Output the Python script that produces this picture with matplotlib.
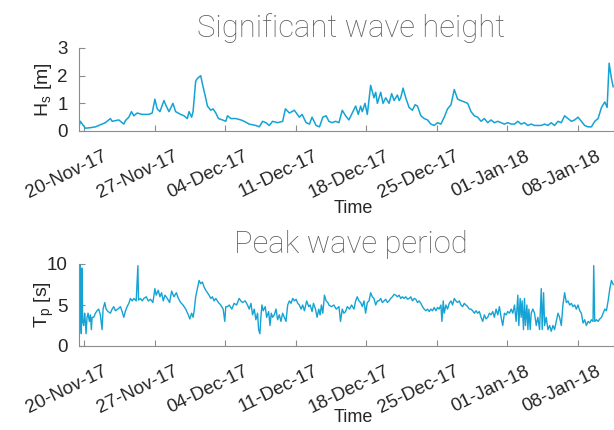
import numpy as np
import pandas as pd
import matplotlib
matplotlib.use("Agg")
import matplotlib.pyplot as plt
import matplotlib.dates as mdates
from matplotlib.transforms import ScaledTranslation

plt.rcParams['font.family'] = ['Liberation Sans', 'DejaVu Sans']
plt.rcParams['mathtext.default'] = 'regular'

# ---------------- data (days since 20-Nov-2017 00:00) ----------------
hs_day = [-0.54, -0.41, 0.09, 0.60, 1.09, 1.42, 2.08, 2.58, 2.75, 3.41,
          3.91, 4.08, 4.41, 4.67, 4.91, 5.24, 5.74, 6.40, 6.73, 7.00,
          7.23, 7.50, 7.90, 8.13, 8.40, 8.79, 9.06, 9.56, 9.89, 10.22,
          10.39, 10.65, 10.79, 11.05, 11.22, 11.55, 11.72, 11.98, 12.22, 12.55,
          12.78, 13.05, 13.31, 13.71, 14.04, 14.21, 14.54, 15.04, 15.54, 15.87,
          16.37, 17.03, 17.37, 17.70, 18.03, 18.36, 18.69, 19.19, 19.69, 19.96,
          20.36, 20.85, 21.35, 21.62, 22.02, 22.35, 22.61, 23.01, 23.35, 23.68,
          24.01, 24.28, 24.61, 24.94, 25.28, 25.61, 25.94, 26.27, 26.60, 26.94,
          27.20, 27.44, 27.60, 27.87, 28.10, 28.43, 28.76, 28.93, 29.10, 29.43,
          29.66, 29.93, 30.26, 30.52, 30.76, 31.09, 31.26, 31.42, 31.65, 31.92,
          32.25, 32.58, 32.85, 33.08, 33.42, 33.75, 34.08, 34.41, 34.74, 35.08,
          35.41, 35.74, 36.07, 36.41, 36.74, 37.07, 37.40, 37.73, 38.07, 38.40,
          38.73, 39.06, 39.40, 39.73, 40.06, 40.39, 40.72, 41.06, 41.39, 41.72,
          42.05, 42.39, 42.72, 43.05, 43.38, 43.71, 44.05, 44.38, 44.71, 45.04,
          45.38, 45.71, 46.04, 46.37, 46.70, 47.04, 47.37, 47.70, 48.03, 48.37,
          48.70, 49.03, 49.36, 49.69, 50.03, 50.36, 50.69, 51.02, 51.36, 51.69,
          51.92, 52.12, 52.35, 52.52]
hs_m = [0.15, 0.35, 0.10, 0.12, 0.15, 0.20, 0.30, 0.45, 0.35, 0.40,
        0.25, 0.38, 0.50, 0.70, 0.55, 0.65, 0.60, 0.60, 0.65, 1.15,
        0.80, 0.70, 1.10, 0.90, 0.70, 1.00, 0.70, 0.60, 0.55, 0.45,
        0.70, 0.50, 0.70, 1.80, 1.90, 2.00, 1.70, 1.30, 0.90, 0.75,
        0.80, 0.65, 0.45, 0.40, 0.35, 0.55, 0.45, 0.45, 0.40, 0.35,
        0.25, 0.20, 0.15, 0.35, 0.30, 0.20, 0.35, 0.30, 0.35, 0.80,
        0.65, 0.75, 0.50, 0.60, 0.30, 0.25, 0.50, 0.20, 0.15, 0.50,
        0.55, 0.35, 0.30, 0.35, 0.30, 0.75, 0.55, 0.40, 0.65, 0.90,
        0.60, 0.90, 0.70, 1.00, 0.60, 1.65, 1.20, 1.40, 1.00, 1.40,
        1.00, 1.20, 1.00, 1.35, 1.10, 1.30, 1.10, 1.20, 1.55, 1.20,
        0.85, 0.75, 0.95, 0.90, 0.55, 0.45, 0.40, 0.25, 0.20, 0.30,
        0.25, 0.50, 0.80, 0.95, 1.50, 1.15, 1.10, 1.05, 1.00, 0.70,
        0.55, 0.50, 0.35, 0.45, 0.30, 0.40, 0.30, 0.35, 0.30, 0.25,
        0.30, 0.25, 0.25, 0.35, 0.25, 0.30, 0.20, 0.25, 0.20, 0.20,
        0.20, 0.25, 0.20, 0.30, 0.20, 0.35, 0.30, 0.55, 0.45, 0.35,
        0.40, 0.50, 0.35, 0.20, 0.15, 0.15, 0.35, 0.45, 0.85, 1.05,
        0.85, 2.45, 1.90, 1.60]

tp_day = [-0.54, -0.50, -0.47, -0.44, -0.38, -0.31, -0.24, -0.18, -0.08, 0.02,
          0.09, 0.16, 0.26, 0.36, 0.49, 0.59, 0.69, 0.76, 0.92, 1.09,
          1.25, 1.42, 1.58, 1.75, 1.85, 2.02, 2.15, 2.35, 2.58, 2.75,
          2.91, 3.08, 3.41, 3.58, 3.74, 3.91, 4.08, 4.24, 4.41, 4.57,
          4.74, 4.91, 5.14, 5.31, 5.37, 5.57, 5.74, 5.90, 6.14, 6.34,
          6.57, 6.80, 7.00, 7.13, 7.33, 7.50, 7.66, 7.83, 8.00, 8.23,
          8.46, 8.66, 8.89, 9.13, 9.33, 9.56, 9.79, 10.06, 10.32, 10.46,
          10.65, 10.79, 10.89, 11.05, 11.22, 11.39, 11.55, 11.72, 11.88, 12.05,
          12.22, 12.38, 12.55, 12.71, 12.88, 13.05, 13.31, 13.54, 13.78, 13.94,
          14.04, 14.21, 14.38, 14.64, 14.87, 15.11, 15.37, 15.54, 15.70, 15.97,
          16.20, 16.37, 16.54, 16.70, 16.87, 17.03, 17.20, 17.30, 17.43, 17.53,
          17.63, 17.76, 17.96, 18.10, 18.30, 18.43, 18.56, 18.69, 18.86, 19.03,
          19.19, 19.36, 19.52, 19.69, 19.86, 20.02, 20.19, 20.36, 20.52, 20.69,
          20.85, 21.02, 21.19, 21.35, 21.52, 21.68, 21.85, 22.08, 22.28, 22.42,
          22.61, 22.75, 22.95, 23.11, 23.28, 23.41, 23.54, 23.68, 23.84, 24.01,
          24.18,
          24.28, 24.54, 24.78, 25.01, 25.28, 25.44, 25.61, 25.77, 25.94, 26.11,
          26.34, 26.54, 26.77, 26.94, 27.10, 27.27, 27.44, 27.60, 27.77, 27.93,
          28.10, 28.27, 28.43, 28.60, 28.76, 28.93, 29.10, 29.26, 29.43, 29.59,
          29.76, 29.93, 30.09, 30.26, 30.42, 30.59, 30.76, 30.92, 31.09, 31.26,
          31.42, 31.59, 31.75, 31.92, 32.09, 32.25, 32.42, 32.58, 32.75, 32.92,
          33.08, 33.25, 33.42, 33.58, 33.75, 33.91, 34.08, 34.25, 34.41, 34.58,
          34.74, 34.91, 35.08, 35.24, 35.41, 35.51, 35.64, 35.74, 35.91, 36.07,
          36.24, 36.41, 36.57, 36.74, 36.90, 37.07, 37.24, 37.40, 37.57, 37.73,
          37.90, 38.07, 38.23, 38.40, 38.56, 38.73, 38.90, 39.06, 39.23, 39.40,
          39.56, 39.73, 39.89, 40.06, 40.23, 40.39, 40.56, 40.72, 40.89, 41.06,
          41.22, 41.39, 41.55, 41.72, 41.89, 42.05, 42.22, 42.39, 42.55, 42.72,
          42.88, 43.05, 43.15, 43.28, 43.38, 43.48, 43.61, 43.71, 43.81, 43.95,
          44.05, 44.15, 44.28, 44.38, 44.54, 44.71, 44.88, 45.04, 45.21, 45.38,
          45.47, 45.61, 45.71, 45.87, 46.04, 46.21, 46.37, 46.54, 46.70, 46.87,
          47.04, 47.20, 47.37, 47.53, 47.70, 47.87, 48.03, 48.20, 48.37, 48.53,
          48.70, 48.86, 49.03, 49.20, 49.36, 49.53, 49.69, 49.86, 50.03, 50.19,
          50.36, 50.52, 50.59, 50.69, 50.86, 51.02, 51.19, 51.36, 51.52, 51.69,
          51.85, 52.02, 52.19, 52.35, 52.52]
tp_s = [3.0, 10.0, 2.0, 9.8, 3.0, 1.5, 9.5, 3.0, 2.5, 4.0,
        3.0, 1.5, 3.5, 4.0, 3.0, 3.8, 2.0, 3.5, 3.5, 4.0,
        4.3, 4.5, 3.8, 2.0, 4.5, 5.3, 4.5, 4.2, 4.0, 4.5,
        4.8, 4.3, 4.6, 4.8, 4.2, 3.5, 4.3, 4.8, 5.2, 5.8,
        5.5, 5.8, 5.5, 9.8, 5.6, 5.8, 5.5, 5.8, 6.0, 5.5,
        5.7, 5.3, 7.0, 6.2, 6.8, 6.0, 6.5, 5.5, 6.2, 5.8,
        5.3, 6.7, 6.0, 6.5, 5.8, 5.3, 5.0, 4.5, 3.8, 3.3,
        4.0, 3.5, 4.2, 6.0, 7.0, 8.0, 7.6, 7.8, 7.2, 6.8,
        6.5, 6.2, 5.8, 6.0, 5.5, 5.8, 5.3, 5.0, 4.5, 3.0,
        4.8, 4.8, 5.0, 4.5, 5.2, 5.0, 5.8, 5.5, 5.3, 5.5,
        5.0, 4.5, 5.2, 3.8, 4.5, 3.2, 4.0, 2.0, 1.5, 3.5,
        5.0, 4.3, 4.8, 3.5, 4.2, 2.5, 4.0, 3.5, 3.8, 4.5,
        3.2, 3.8, 3.0, 4.0, 3.5, 3.0, 5.0, 5.5, 5.2, 5.8,
        5.5, 5.7, 5.2, 5.0, 4.5, 5.0, 4.3, 5.5, 4.8, 5.0,
        4.2, 5.2, 4.5, 3.5, 4.5, 3.8, 5.0, 4.0, 6.2, 5.5,
        5.3,
        5.0, 4.8, 5.0, 4.5, 4.8, 3.0, 4.5, 4.0, 4.2, 4.8,
        4.5, 5.0, 4.5, 5.5, 6.0, 5.5, 5.3, 4.8, 5.5, 4.0,
        5.3, 5.5, 6.5, 6.0, 5.8, 5.0, 5.5, 5.5, 5.8, 5.3,
        5.5, 5.7, 5.3, 5.5, 5.8, 6.0, 6.3, 6.2, 6.0, 6.2,
        5.8, 6.0, 5.8, 6.0, 5.7, 5.8, 6.0, 5.5, 5.8, 5.7,
        5.3, 5.5, 5.2, 4.8, 4.5, 4.3, 4.5, 4.2, 4.5, 4.3,
        4.7, 4.3, 4.7, 4.5, 5.0, 3.0, 5.5, 4.0, 5.0, 4.5,
        5.2, 5.5, 5.0, 5.8, 5.5, 5.3, 5.5, 5.0, 4.8, 5.2,
        5.0, 4.8, 4.5, 4.5, 4.3, 4.0, 4.3, 4.0, 4.2, 3.5,
        3.0, 3.8, 3.3, 3.5, 4.0, 3.8, 4.2, 3.5, 4.5, 3.8,
        4.8, 3.5, 2.5, 4.0, 3.8, 4.2, 4.0, 4.5, 4.0, 5.0,
        3.0, 6.2, 2.5, 5.8, 3.5, 5.5, 2.0, 5.8, 2.5, 5.0,
        2.0, 4.5, 2.0, 4.0, 4.5, 4.0, 2.5, 3.5, 2.0, 7.0,
        2.0, 6.5, 2.5, 3.5, 2.0, 2.5, 1.8, 2.5, 2.0, 3.0,
        4.0, 3.5, 2.5, 5.0, 6.5, 5.3, 5.5, 5.0, 5.2, 4.8,
        5.0, 4.5, 5.0, 4.3, 4.0, 2.8, 3.2, 2.5, 3.0, 2.8,
        3.2, 3.0, 9.8, 3.0, 3.2, 3.0, 3.3, 3.5, 4.0, 4.5,
        4.3, 5.5, 7.0, 8.0, 7.5]

tick_dates = ['2017-11-20', '2017-11-27', '2017-12-04', '2017-12-11',
              '2017-12-18', '2017-12-25', '2018-01-01', '2018-01-08']
hs_yticks = [0, 1, 2, 3]
tp_yticks = [0, 5, 10]

assert len(hs_day) == len(hs_m)
assert len(tp_day) == len(tp_s)

# ---------------- plotting ----------------
base = pd.Timestamp('2017-11-20')
t_hs = base + pd.to_timedelta(np.array(hs_day), unit='D')
t_tp = base + pd.to_timedelta(np.array(tp_day), unit='D')
xmin = base + pd.Timedelta(days=-0.54)
xmax = base + pd.Timedelta(days=53.2)

W, H = 614, 430
fig = plt.figure(figsize=(W / 100, H / 100), dpi=100)
ax1 = fig.add_axes([79 / W, 1 - 131 / H, (620 - 79) / W, 83 / H])
ax2 = fig.add_axes([79 / W, 1 - 346 / H, (620 - 79) / W, 82 / H])

line_c = '#14a3d4'
ax1.plot(t_hs, hs_m, color=line_c, lw=1.1)
ax2.plot(t_tp, tp_s, color=line_c, lw=1.0)

text_c = '#262626'
xoff = ScaledTranslation(18 / 100, 0, fig.dpi_scale_trans)

for ax, yt, lim in ((ax1, hs_yticks, (0, 3)), (ax2, tp_yticks, (0, 10))):
    ax.set_xlim(xmin, xmax)
    ax.set_ylim(*lim)
    ax.set_yticks(yt)
    ax.set_xticks(pd.to_datetime(tick_dates))
    ax.xaxis.set_major_formatter(mdates.DateFormatter('%d-%b-%y'))
    for s in ('top', 'right'):
        ax.spines[s].set_visible(False)
    for s in ('left', 'bottom'):
        ax.spines[s].set_color('#8c8c8c')
        ax.spines[s].set_linewidth(0.8)
    ax.tick_params(direction='in', length=4, width=0.8, color='#8c8c8c',
                   labelsize=13.5, labelcolor=text_c)
    ax.tick_params(axis='x', pad=12)
    ax.tick_params(axis='y', pad=8)
    for lab in ax.get_xticklabels():
        lab.set_rotation(26)
        lab.set_ha('right')
        lab.set_va('top')
        lab.set_rotation_mode('anchor')
        lab.set_transform(lab.get_transform() + xoff)

ax1.set_xlabel('Time', fontsize=13, color=text_c, va='top')
ax1.xaxis.set_label_coords(353 / W, 1 - 200 / H, transform=fig.transFigure)
ax2.set_xlabel('Time', fontsize=13, color=text_c, va='top')
ax2.xaxis.set_label_coords(353 / W, 1 - 409 / H, transform=fig.transFigure)

ax1.set_ylabel('H$_s$ [m]', fontsize=14, color=text_c, va='center')
ax1.yaxis.set_label_coords(44 / W, 1 - 90 / H, transform=fig.transFigure)
ax2.set_ylabel('T$_p$ [s]', fontsize=14, color=text_c, va='center')
ax2.yaxis.set_label_coords(44 / W, 1 - 305 / H, transform=fig.transFigure)

fig.text(351 / W, 1 - 37 / H, 'Significant wave height', ha='center', va='baseline',
         fontsize=22.3, color='#606060', family=['Roboto', 'DejaVu Sans'], fontweight='light')
fig.text(351 / W, 1 - 253 / H, 'Peak wave period', ha='center', va='baseline',
         fontsize=22.3, color='#606060', family=['Roboto', 'DejaVu Sans'], fontweight='light')

fig.savefig('out.png', dpi=100)
